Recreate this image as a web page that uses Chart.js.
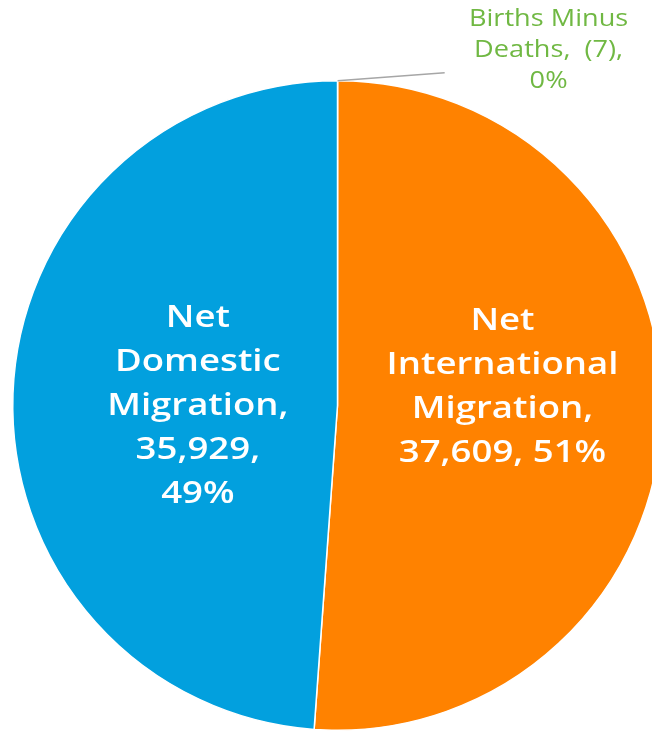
<!DOCTYPE html>
<html>
<head>
<meta charset="utf-8">
<script src="https://cdn.jsdelivr.net/npm/chart.js@4.4.1/dist/chart.umd.min.js"></script>
<style>
  html, body { margin: 0; padding: 0; background: #fff; overflow: hidden; }
  #wrap { position: absolute; left: 0; top: 0; width: 680px; height: 760px; }
</style>
</head>
<body>
<div id="wrap"><canvas id="pieChart"></canvas></div>
<script>
// data
var categories = ["Births Minus Deaths", "Net International Migration", "Net Domestic Migration"];
var values = [-7, 37609, 35929];
var sliceColors = ["#70B843", "#FF8200", "#02A0DE"];

function fmtNum(v) {
	var s = Math.abs(v).toLocaleString("en-US");
	return v < 0 ? "(" + s + ")" : s;
}

var total = values.reduce(function (a, b) { return a + Math.abs(b); }, 0);
function pct(v) { return Math.round(Math.abs(v) / total * 100) + "%"; }

var LABEL_FONT = "600 31px 'Open Sans', sans-serif";
var STRETCH = 1.18; // the original font is a wide geometric sans

function wideText(ctx, t, x, y) {
	ctx.save();
	ctx.translate(x, y);
	ctx.scale(STRETCH, 1);
	ctx.fillText(t, 0, 0);
	ctx.restore();
}

// draw the data labels on top of the slices
var pieLabels = {
	id: 'pieLabels',
	afterDatasetsDraw: function (chart) {
		var ctx = chart.ctx;
		var meta = chart.getDatasetMeta(0);
		var cx = meta.data[0].x, cy = meta.data[0].y, r = meta.data[0].outerRadius;

		ctx.save();
		ctx.textAlign = 'center';
		ctx.textBaseline = 'middle';

		// international
		ctx.font = LABEL_FONT;
		ctx.fillStyle = '#fff';
		var intl = ["Net", "International", "Migration,", fmtNum(values[1]) + ", " + pct(values[1])];
		var ix = cx + r * 0.508, iy = cy - r * 0.26;
		intl.forEach(function (t, i) { wideText(ctx, t, ix, iy + i * 44); });

		// domestic
		var dom = ["Net", "Domestic", "Migration,", fmtNum(values[2]) + ",", pct(values[2])];
		var dx = cx - r * 0.43, dy = cy - r * 0.27;
		dom.forEach(function (t, i) { wideText(ctx, t, dx, dy + i * 44); });

		// births minus deaths, outside with leader line
		var a = meta.data[0];
		var mid = (a.startAngle + a.endAngle) / 2;
		var px = cx + Math.cos(mid) * r, py = cy + Math.sin(mid) * r;
		ctx.strokeStyle = '#A6A6A6';
		ctx.lineWidth = 1.5;
		ctx.beginPath();
		ctx.moveTo(px, py);
		ctx.lineTo(cx + r * 0.33, cy - r * 1.025);
		ctx.stroke();

		ctx.font = "400 23px 'Open Sans', sans-serif";
		ctx.fillStyle = sliceColors[0];
		var bx = cx + r * 0.65, by = cy - r * 1.19;
		["Births Minus", "Deaths,  " + fmtNum(values[0]) + ",", pct(values[0])].forEach(function (t, i) {
			wideText(ctx, t, bx, by + i * 31);
		});
		ctx.restore();
	}
};

var canvas = document.getElementById('pieChart');
var config = {
	type: 'pie',
	data: {
		labels: categories,
		datasets: [{
			data: values,
			backgroundColor: sliceColors,
			borderColor: '#fff',
			borderWidth: 1.5
		}]
	},
	options: {
		responsive: false,
		animation: false,
		layout: { padding: { left: 12, top: 80, right: 17, bottom: 29 } },
		plugins: {
			legend: { display: false },
			tooltip: { enabled: false }
		}
	},
	plugins: [pieLabels]
};
canvas.width = 680;
canvas.height = 760;
var pieChart = new Chart(canvas.getContext('2d'), config);
</script>
</body>
</html>
